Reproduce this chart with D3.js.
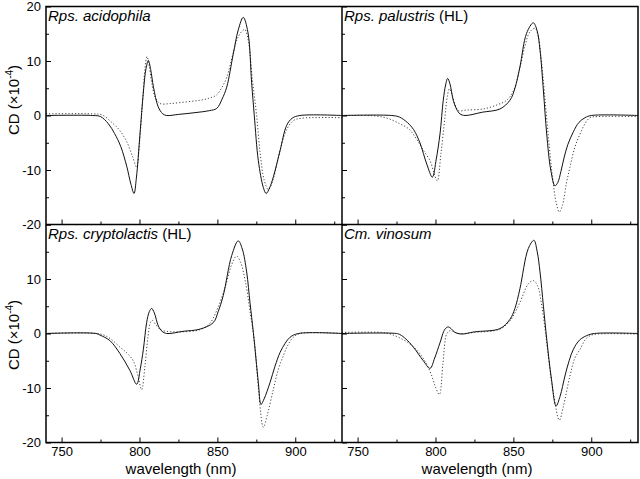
<!DOCTYPE html>
<html>
<head>
<meta charset="utf-8">
<script src="https://cdn.jsdelivr.net/npm/d3@7"></script>
<style>
  body { margin: 0; background: #fff; }
  svg { display: block; font-family: "Liberation Sans", Arial, sans-serif; }
</style>
</head>
<body>
<div id="chart"></div>
<script>
// wavelength (nm), CD (x10^-4) pairs
const acidophilaSolid = [[740,0],[770,0],[775,-0.2],[780,-1.5],[784,-3.3],[788,-5.7],[791.8,-9.3],[794.5,-12.6],[796.5,-14.3],[798,-11.5],[800.3,-3.5],[802.5,4.3],[804.2,8.6],[805.7,10.1],[807.2,8.4],[809,5.2],[812,1.6],[815,0.3],[817.5,0],[825,0.2],[835,0.5],[845,0.9],[849.6,1.3],[853,3],[856,5.2],[860.2,11.3],[863.4,15.7],[866.6,18],[869.6,15.3],[872,6],[873.7,0],[876.3,-8.3],[879.5,-13.2],[881.3,-14.3],[883.5,-13.3],[886,-11.2],[890.2,-6.5],[894.5,-1.8],[898,-0.5],[903,0],[930,0]];
const acidophilaDotted = [[740,0.3],[770,0.3],[776,0.1],[782,-1.2],[787.5,-2.8],[791.8,-4.8],[795.5,-7.5],[798.2,-9.5],[800,-5],[802,2.5],[803.5,8.5],[804.8,10.8],[806.3,9],[808,5.8],[810,3.4],[813.2,2.2],[820,2.2],[830,2.5],[839,2.8],[845,3.2],[849.6,3.8],[853,5.2],[856,7],[860.2,11.5],[863.5,14.5],[867.5,15.8],[870,13.5],[872.5,6.5],[875.2,0],[877.5,-7],[880,-11.8],[882.7,-13.6],[885.5,-12],[888.5,-8.5],[891.5,-5],[895,-2.3],[899,-0.9],[904,-0.5],[930,-0.4]];

const palustrisSolid = [[740,0],[772,0],[777,-0.3],[782,-1.3],[786,-2.6],[790,-5],[794.4,-8.9],[798,-11.3],[800.5,-8],[802.9,-3.4],[805,2.8],[806.5,5.6],[807.8,6.8],[809.3,5.8],[811.4,2.8],[813.5,1.2],[815.7,0.3],[819,0],[830,0.6],[841.4,1.2],[847.8,2.8],[851,5],[854.2,8.9],[858.5,15.1],[862.8,17],[865.2,15.6],[867.1,12],[869.3,4.5],[871.4,-3.4],[874,-10],[876.7,-12.9],[878.5,-12.3],[880.5,-10.3],[882.5,-7.8],[885,-5.3],[888.5,-3],[892,-1.3],[896,-0.4],[900,0],[930,0]];
const palustrisDotted = [[740,0],[762,-0.1],[770,-0.6],[777,-1.5],[783,-2.5],[788,-4.4],[792,-6.3],[796.5,-8.3],[799,-10.5],[801.2,-12],[803.5,-7],[806,-0.5],[807.6,3.5],[808.9,4.9],[810.5,4],[812.5,2],[814.7,0.9],[820,1],[830.7,1.2],[840,2],[845.7,2.8],[850,4.5],[854,8.5],[857.5,12.8],[860.5,15.3],[863.9,16],[866,14.5],[868,10],[870,4],[872.5,-4],[875,-11],[877.5,-16],[879.5,-17.7],[881.5,-16.5],[884,-12.5],[886.3,-9.5],[889.5,-5.8],[892.8,-3.4],[896,-1.5],[899.2,-0.4],[904,-0.2],[930,-0.2]];

const cryptolactisSolid = [[740,0],[772,0],[774.7,-0.3],[781,-1.3],[787.5,-3.7],[793.9,-6.8],[798.2,-9.3],[800.5,-6.5],[802.5,-2.9],[804.6,2],[806.3,4],[807.8,4.6],[809.5,3.8],[812.1,1.4],[814.5,0.4],[817.5,0],[828,0.4],[838.8,0.8],[847.4,2],[850.5,4],[853.8,7],[859.2,14.3],[863.4,17],[866,15.5],[868.8,11.3],[871,5.5],[873.1,0.2],[876.3,-9],[878,-13],[880,-12],[883.8,-9],[887,-6],[890.2,-3.5],[893.5,-1.8],[896.6,-0.7],[902,0],[930,0]];
const cryptolactisDotted = [[740,0],[775,-0.1],[781,-0.9],[787.5,-2.5],[792,-3.6],[796,-5],[798.8,-7.5],[801.4,-10.3],[803.5,-6],[805.5,-0.5],[807,2],[808.3,2.4],[810,1.8],[813,0.8],[815.3,0.5],[825,0.3],[838.8,0.7],[845,1.8],[850,4.5],[855,8.5],[859,12.5],[862.3,14.2],[865,13],[868,9.5],[871,4],[874,-2],[876.5,-10.5],[879.5,-17.2],[882,-15],[885.9,-10.3],[889,-6.7],[892.3,-4.1],[895.5,-2],[898.7,-0.7],[903,0],[930,0]];

const vinosumSolid = [[740,0],[775,0],[777.2,-0.2],[781,-1],[785.8,-2.5],[792.2,-5],[796.5,-6.4],[799.5,-4.5],[802.9,-1.7],[806.1,0.8],[808.2,1.2],[810,0.9],[812.5,0.2],[816.8,-0.1],[825,0.3],[841.4,0.9],[847.8,2.6],[851,4.6],[854.2,8.2],[859.6,15.6],[863.2,17.1],[865.3,15],[867.1,11.3],[869.3,5],[871.4,-1],[874.5,-8.5],[877.4,-13.3],[880,-11.5],[883.1,-7.8],[885.8,-5],[888.5,-2.9],[892.5,-1.2],[897,-0.4],[902,0],[930,0]];
const vinosumDotted = [[740,0.2],[765,0.2],[771,-0.1],[777,-0.8],[785,-2.2],[792,-4.5],[797,-7.3],[800,-9.8],[802.5,-11.2],[804.8,-5.5],[807.2,-0.1],[809.3,0.5],[811,0.4],[815,0],[825,0.2],[841.4,0.8],[847.8,2.3],[851,3.8],[854.2,5.7],[859.6,9.1],[862.8,9.7],[865.5,8.8],[868,5.5],[870.5,0.5],[873,-5.5],[876,-11.5],[879.5,-15.9],[882,-13.5],[886.3,-7.8],[889.5,-4.5],[892.8,-2.9],[896,-1.2],[899.2,-0.4],[904,-0.1],[930,-0.1]];

const xMajorTicks = [750, 800, 850, 900];
const xMinorTicks = [775, 825, 875, 925];
const yMajorTicks = [-20, -10, 0, 10, 20];
const yMinorTicks = [-15, -5, 5, 15];

const panels = [
  {species: "Rps. acidophila",    tag: "",     solid: acidophilaSolid,   dotted: acidophilaDotted,   col: 0, row: 0},
  {species: "Rps. palustris",     tag: "(HL)", solid: palustrisSolid,    dotted: palustrisDotted,    col: 1, row: 0},
  {species: "Rps. cryptolactis",  tag: "(HL)", solid: cryptolactisSolid, dotted: cryptolactisDotted, col: 0, row: 1},
  {species: "Cm. vinosum",        tag: "",     solid: vinosumSolid,      dotted: vinosumDotted,      col: 1, row: 1}
];

///////////
/// Box ///
///////////

const width = 640, height = 479;
const boxLeft = 46, boxTop = 6.5, pw = 296, ph = 218;

const svg = d3.select("#chart").append("svg")
  .attr("width", width)
  .attr("height", height);

svg.append("rect").attr("width", width).attr("height", height).attr("fill", "#fff");

const line = (x, y) => d3.line()
  .x(d => x(d[0]))
  .y(d => y(d[1]))
  .curve(d3.curveCatmullRom.alpha(0.5));

panels.forEach(p => {
  const x0 = boxLeft + p.col * pw;
  const y0 = boxTop + p.row * ph;

  const x = d3.scaleLinear().domain([740, 930]).range([x0, x0 + pw]);
  const y = d3.scaleLinear().domain([-20, 20]).range([y0 + ph, y0]);

  const g = svg.append("g");

  g.append("clipPath").attr("id", "clip" + p.col + p.row)
    .append("rect").attr("x", x0).attr("y", y0).attr("width", pw).attr("height", ph);

  const curves = g.append("g").attr("clip-path", "url(#clip" + p.col + p.row + ")");

  curves.append("path")
    .datum(p.dotted)
    .attr("fill", "none")
    .attr("stroke", "#444")
    .attr("stroke-width", 1)
    .attr("stroke-dasharray", "1.2,2")
    .attr("d", line(x, y));

  curves.append("path")
    .datum(p.solid)
    .attr("fill", "none")
    .attr("stroke", "#111")
    .attr("stroke-width", 1)
    .attr("d", line(x, y));

  ////////////
  /// Axes ///
  ////////////

  g.append("g")
    .attr("transform", "translate(0," + (y0 + ph) + ")")
    .call(d3.axisBottom(x).tickValues(xMajorTicks).tickSize(-5).tickPadding(4)
      .tickFormat(p.row === 1 ? d => String(d) : ""));
  g.append("g")
    .attr("transform", "translate(0," + (y0 + ph) + ")")
    .call(d3.axisBottom(x).tickValues(xMinorTicks).tickSize(-3).tickFormat(""));

  g.append("g")
    .attr("transform", "translate(" + x0 + ",0)")
    .call(d3.axisLeft(y).tickValues(yMajorTicks).tickSize(-5).tickPadding(5)
      .tickFormat(d => (p.col === 0 && !(p.row === 1 && d === 20)) ? String(d) : ""));
  g.append("g")
    .attr("transform", "translate(" + x0 + ",0)")
    .call(d3.axisLeft(y).tickValues(yMinorTicks).tickSize(-3).tickFormat(""));

  g.selectAll(".domain").remove();
  g.selectAll(".tick line").attr("stroke", "#000").attr("stroke-width", 1);
  g.selectAll(".tick text")
    .attr("fill", "#000")
    .style("font-size", "13px")
    .style("font-family", "'Liberation Sans', Arial, sans-serif");

  //////////////
  /// Labels ///
  //////////////

  const title = g.append("text")
    .attr("x", x0 + 2)
    .attr("y", y0 + 14.5)
    .style("font-size", "15px")
    .attr("fill", "#000");
  title.append("tspan").style("font-style", "italic").text(p.species);
  if (p.tag) title.append("tspan").text(" " + p.tag);

  if (p.row === 1) {
    g.append("text")
      .attr("x", x0 + pw / 2 - 13)
      .attr("y", boxTop + 2 * ph + 31.5)
      .attr("text-anchor", "middle")
      .style("font-size", "15px")
      .attr("fill", "#000")
      .text("wavelength (nm)");
  }

  if (p.col === 0) {
    const cy = p.row === 0 ? 100 : 335;
    const lab = g.append("text")
      .attr("transform", "translate(19," + cy + ") rotate(-90)")
      .attr("text-anchor", "middle")
      .style("font-size", "15px")
      .attr("fill", "#000");
    lab.append("tspan").text("CD (\u00d710");
    lab.append("tspan").attr("dy", -6).style("font-size", "10px").text("-4");
    lab.append("tspan").attr("dy", 6).text(")");
  }
});

// frame: outer box plus the two dividers
const frame = svg.append("g").attr("fill", "none").attr("stroke", "#000").attr("stroke-width", 1.5);
frame.append("rect").attr("x", boxLeft).attr("y", boxTop).attr("width", 2 * pw).attr("height", 2 * ph);
frame.append("line").attr("x1", boxLeft + pw).attr("x2", boxLeft + pw).attr("y1", boxTop).attr("y2", boxTop + 2 * ph);
frame.append("line").attr("x1", boxLeft).attr("x2", boxLeft + 2 * pw).attr("y1", boxTop + ph).attr("y2", boxTop + ph);
</script>
</body>
</html>
